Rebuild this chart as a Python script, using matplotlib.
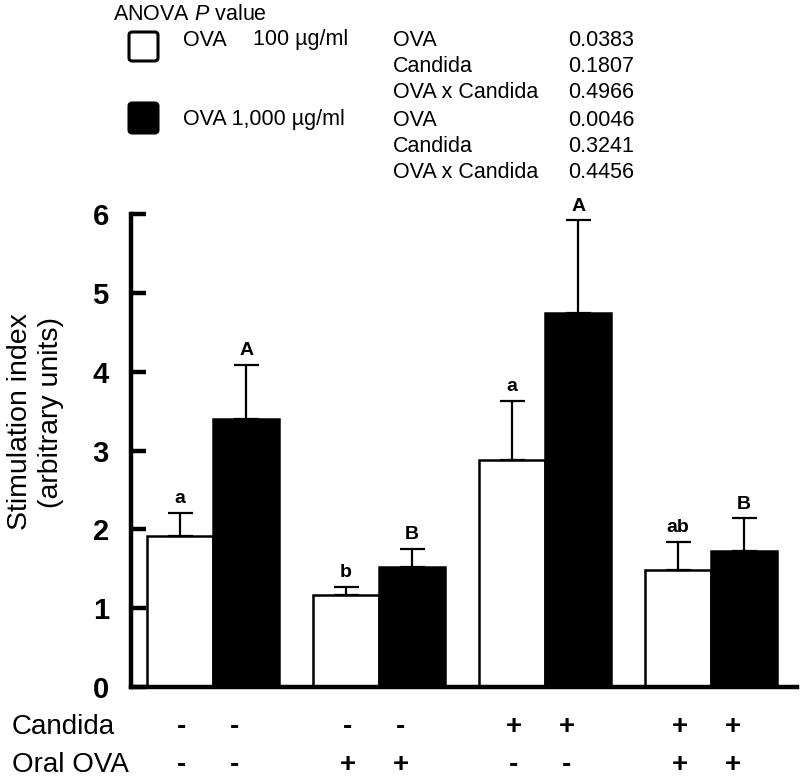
import matplotlib
matplotlib.use("Agg")
import matplotlib.pyplot as plt
import numpy as np
from matplotlib.patches import FancyBboxPatch
from matplotlib.transforms import blended_transform_factory

plt.rcParams['font.family'] = ['Liberation Sans', 'DejaVu Sans']
plt.rcParams['mathtext.fontset'] = 'custom'
plt.rcParams['mathtext.rm'] = 'Liberation Sans'
plt.rcParams['mathtext.it'] = 'Liberation Sans:italic'

# ---- data ----
groups = [0, 1, 2, 3]
ova100_mean = [1.91, 1.17, 2.88, 1.49]
ova100_err = [0.30, 0.10, 0.75, 0.35]
ova1000_mean = [3.40, 1.52, 4.74, 1.72]
ova1000_err = [0.69, 0.23, 1.18, 0.42]
ova100_letters = ['a', 'b', 'a', 'ab']
ova1000_letters = ['A', 'B', 'A', 'B']
candida_signs = ['-', '-', '+', '+']
oral_ova_signs = ['-', '+', '-', '+']
yticks = [0, 1, 2, 3, 4, 5, 6]
anova_terms = ['OVA', 'Candida', 'OVA x Candida', 'OVA', 'Candida', 'OVA x Candida']
anova_p = ['0.0383', '0.1807', '0.4966', '0.0046', '0.3241', '0.4456']

W, H = 800, 783
fig = plt.figure(figsize=(W / 100, H / 100), dpi=100)

def fx(x):
    return x / W

def fy(y):
    return 1 - y / H

ax = fig.add_axes([fx(131), fy(687), fx(797) - fx(131), fy(214) - fy(687)])

x = np.array(groups, dtype=float)
bw = 0.4
ax.bar(x - bw / 2, ova100_mean, width=bw, color='white', edgecolor='black', linewidth=1.8, zorder=2)
ax.bar(x + bw / 2, ova1000_mean, width=bw, color='black', edgecolor='black', linewidth=1.8, zorder=2)
ax.errorbar(x - bw / 2, ova100_mean, yerr=[np.zeros(4), ova100_err], fmt='none', ecolor='black',
            elinewidth=1.6, capsize=9, capthick=1.6, zorder=3)
ax.errorbar(x + bw / 2, ova1000_mean, yerr=[np.zeros(4), ova1000_err], fmt='none', ecolor='black',
            elinewidth=1.6, capsize=9, capthick=1.6, zorder=3)

for xi, m, e, t in zip(x - bw / 2, ova100_mean, ova100_err, ova100_letters):
    ax.annotate(t, (xi, m + e), xytext=(0, 7), textcoords='offset points', ha='center', va='baseline',
                fontsize=14, fontweight='bold')
for xi, m, e, t in zip(x + bw / 2, ova1000_mean, ova1000_err, ova1000_letters):
    ax.annotate(t, (xi, m + e), xytext=(0, 7), textcoords='offset points', ha='center', va='baseline',
                fontsize=14, fontweight='bold', annotation_clip=False)

ax.set_xlim(-0.494, 3.518)
ax.set_ylim(0, 6)
ax.set_yticks(yticks)
ax.set_yticklabels([str(t) for t in yticks], fontsize=21, fontweight='bold')
ax.set_xticks([])
for s in ['top', 'right']:
    ax.spines[s].set_visible(False)
for s in ['left', 'bottom']:
    ax.spines[s].set_linewidth(3.2)
ax.tick_params(axis='y', direction='in', length=11, width=3.2, pad=16)

# y label
fig.text(fx(20), fy(422), 'Stimulation index', rotation=90, ha='center', va='center', fontsize=20.5)
fig.text(fx(51), fy(412), '(arbitrary units)', rotation=90, ha='center', va='center', fontsize=20.5)

# bottom sign rows
tr = blended_transform_factory(ax.transData, fig.transFigure)
fig.text(fx(12), fy(727), 'Candida', ha='left', va='center', fontsize=20)
fig.text(fx(12), fy(765), 'Oral OVA', ha='left', va='center', fontsize=20)
for g, c, o in zip(x, candida_signs, oral_ova_signs):
    for off in (-0.19, 0.13):
        ax.text(g + off, fy(727), c, transform=tr, ha='center', va='center', fontsize=20, fontweight='bold')
        ax.text(g + off, fy(765), o, transform=tr, ha='center', va='center', fontsize=20, fontweight='bold')

# legend / ANOVA table
fig.text(fx(113), fy(15), 'ANOVA $P$ value', ha='left', va='center', fontsize=15.5)
fig.add_artist(FancyBboxPatch((fx(129), fy(61)), fx(158) - fx(129), fy(32) - fy(61),
                              boxstyle='round,pad=0,rounding_size=0.004', transform=fig.transFigure,
                              facecolor='white', edgecolor='black', linewidth=2.2))
fig.add_artist(FancyBboxPatch((fx(129), fy(133)), fx(158) - fx(129), fy(103) - fy(133),
                              boxstyle='round,pad=0,rounding_size=0.004', transform=fig.transFigure,
                              facecolor='black', edgecolor='black', linewidth=2.2))
fig.text(fx(183), fy(40), 'OVA', ha='left', va='center', fontsize=15.5)
fig.text(fx(253), fy(40), '100 µg/ml', ha='left', va='center', fontsize=15.5)
fig.text(fx(183), fy(120), 'OVA 1,000 µg/ml', ha='left', va='center', fontsize=15.5)
row_y = [40, 66, 92, 120, 146, 172]
for yy, term, p in zip(row_y, anova_terms, anova_p):
    fig.text(fx(393), fy(yy), term, ha='left', va='center', fontsize=15.5)
    fig.text(fx(568), fy(yy), p, ha='left', va='center', fontsize=15.5)

fig.savefig('out.png', dpi=100)
